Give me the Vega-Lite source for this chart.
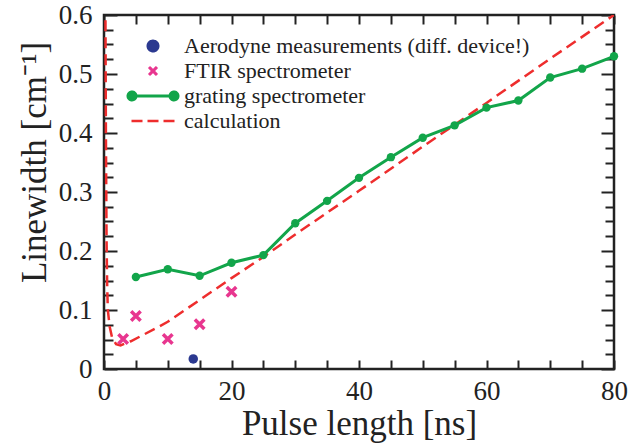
{
  "$schema": "https://vega.github.io/schema/vega-lite/v6.json",
  "autosize": "none",
  "width": 510,
  "height": 354,
  "padding": {"left": 104, "top": 15, "right": 16, "bottom": 79},
  "background": "white",
  "config": {
    "view": {"stroke": "#222", "strokeWidth": 2.5},
    "font": "Liberation Serif",
    "axis": {
      "labelFont": "Liberation Serif",
      "titleFont": "Liberation Serif",
      "labelColor": "#222",
      "titleColor": "#222",
      "titleFontWeight": "normal",
      "tickColor": "#222",
      "tickWidth": 2,
      "grid": false,
      "domain": false
    }
  },
  "datasets": {
    "pts": [
      {"series": "Aerodyne measurements (diff. device!)", "x": 14, "y": 0.017},
      {"series": "FTIR spectrometer", "x": 3, "y": 0.051},
      {"series": "FTIR spectrometer", "x": 5, "y": 0.09},
      {"series": "FTIR spectrometer", "x": 10, "y": 0.051},
      {"series": "FTIR spectrometer", "x": 15, "y": 0.076},
      {"series": "FTIR spectrometer", "x": 20, "y": 0.131},
      {"series": "grating spectrometer", "x": 5, "y": 0.156},
      {"series": "grating spectrometer", "x": 10, "y": 0.169},
      {"series": "grating spectrometer", "x": 15, "y": 0.158},
      {"series": "grating spectrometer", "x": 20, "y": 0.18},
      {"series": "grating spectrometer", "x": 25, "y": 0.193},
      {"series": "grating spectrometer", "x": 30, "y": 0.247},
      {"series": "grating spectrometer", "x": 35, "y": 0.285},
      {"series": "grating spectrometer", "x": 40, "y": 0.324},
      {"series": "grating spectrometer", "x": 45, "y": 0.359},
      {"series": "grating spectrometer", "x": 50, "y": 0.392},
      {"series": "grating spectrometer", "x": 55, "y": 0.413},
      {"series": "grating spectrometer", "x": 60, "y": 0.443},
      {"series": "grating spectrometer", "x": 65, "y": 0.455},
      {"series": "grating spectrometer", "x": 70, "y": 0.494},
      {"series": "grating spectrometer", "x": 75, "y": 0.509},
      {"series": "grating spectrometer", "x": 80, "y": 0.53},
      {"series": "calculation", "x": 0.22, "y": 0.62},
      {"series": "calculation", "x": 0.3, "y": 0.4},
      {"series": "calculation", "x": 0.4, "y": 0.22},
      {"series": "calculation", "x": 0.5, "y": 0.14},
      {"series": "calculation", "x": 0.6, "y": 0.1},
      {"series": "calculation", "x": 0.9, "y": 0.071},
      {"series": "calculation", "x": 1.25, "y": 0.054},
      {"series": "calculation", "x": 1.9, "y": 0.042},
      {"series": "calculation", "x": 2.6, "y": 0.04},
      {"series": "calculation", "x": 4.2, "y": 0.047},
      {"series": "calculation", "x": 6, "y": 0.057},
      {"series": "calculation", "x": 8.5, "y": 0.071},
      {"series": "calculation", "x": 10, "y": 0.08},
      {"series": "calculation", "x": 15, "y": 0.117},
      {"series": "calculation", "x": 20, "y": 0.154},
      {"series": "calculation", "x": 25, "y": 0.19},
      {"series": "calculation", "x": 30, "y": 0.228},
      {"series": "calculation", "x": 40, "y": 0.302},
      {"series": "calculation", "x": 50, "y": 0.377},
      {"series": "calculation", "x": 55, "y": 0.414},
      {"series": "calculation", "x": 60, "y": 0.451},
      {"series": "calculation", "x": 70, "y": 0.526},
      {"series": "calculation", "x": 80, "y": 0.6}
    ]
  },
  "data": {"name": "pts"},
  "resolve": {"axis": {"x": "independent", "y": "independent"}},
  "encoding": {
    "color": {
      "field": "series",
      "type": "nominal",
      "scale": {
        "domain": ["Aerodyne measurements (diff. device!)", "FTIR spectrometer", "grating spectrometer", "calculation"],
        "range": ["#2b3990", "#e8368f", "#12a54a", "#ee2d2d"]
      },
      "legend": {
        "orient": "none",
        "legendX": 38,
        "legendY": 20,
        "title": null,
        "padding": 0,
        "symbolSize": 100,
        "labelOffset": 20,
        "rowPadding": 3,
        "labelFont": "Liberation Serif",
        "labelFontSize": 22,
        "labelColor": "#222",
        "labelLimit": 500,
        "encode": {
          "symbols": {
            "update": {
              "shape": {"signal": "datum.value === 'grating spectrometer' ? 'M-4.2,0L4.2,0M-5,0A0.8,0.8,0,1,0,-3.4,0A0.8,0.8,0,1,0,-5,0M3.4,0A0.8,0.8,0,1,0,5,0A0.8,0.8,0,1,0,3.4,0' : datum.value === 'calculation' ? 'M-4.3,0L4.3,0' : datum.value === 'FTIR spectrometer' ? 'M-0.8,-0.8L0.8,0.8M-0.8,0.8L0.8,-0.8' : 'M-1,0A1,1,0,1,0,1,0A1,1,0,1,0,-1,0Z'"},
              "fill": {"signal": "datum.value === 'grating spectrometer' ? '#12a54a' : datum.value === 'Aerodyne measurements (diff. device!)' ? '#2b3990' : 'transparent'"},
              "stroke": {"signal": "datum.value === 'grating spectrometer' ? '#12a54a' : datum.value === 'calculation' ? '#ee2d2d' : datum.value === 'FTIR spectrometer' ? '#e8368f' : 'transparent'"},
              "strokeWidth": {"signal": "datum.value === 'calculation' ? 2.5 : 3"},
              "strokeDash": {"signal": "datum.value === 'calculation' ? [11, 5] : [1, 0]"},
              "opacity": {"value": 1}
            }
          }
        }
      }
    }
  },
  "layer": [
    {
      "transform": [{"filter": "datum.series === 'calculation'"}],
      "mark": {"type": "line", "strokeDash": [11, 6], "strokeWidth": 2.5, "clip": true},
      "encoding": {
        "x": {
          "field": "x", "type": "quantitative",
          "scale": {"domain": [0, 80], "nice": false, "zero": false},
          "axis": {
            "orient": "bottom",
            "values": [0, 5, 10, 15, 20, 25, 30, 35, 40, 45, 50, 55, 60, 65, 70, 75, 80],
            "labelExpr": "datum.value % 20 === 0 ? datum.label : ''",
            "tickSize": -9,
            "labelPadding": 18,
            "labelFontSize": 27,
            "labelFlush": false,
            "title": "Pulse length [ns]",
            "titleFontSize": 35,
            "titlePadding": 2
          }
        },
        "y": {
          "field": "y", "type": "quantitative",
          "scale": {"domain": [0, 0.6], "nice": false, "zero": false},
          "axis": {
            "orient": "left",
            "values": [0, 0.025, 0.05, 0.075, 0.1, 0.125, 0.15, 0.175, 0.2, 0.225, 0.25, 0.275, 0.3, 0.325, 0.35, 0.375, 0.4, 0.425, 0.45, 0.475, 0.5, 0.525, 0.55, 0.575, 0.6],
            "labelExpr": "abs(datum.value * 10 - round(datum.value * 10)) < 0.001 ? format(datum.value, '.1~f') : ''",
            "tickSize": {"condition": {"test": "abs(datum.value * 10 - round(datum.value * 10)) < 0.001", "value": -13}, "value": -9},
            "labelPadding": 25,
            "labelFontSize": 27,
            "labelFlush": false,
            "title": "Linewidth [cm⁻¹]",
            "titleFontSize": 35,
            "titlePadding": 6,
            "titleY": 147
          }
        }
      }
    },
    {
      "transform": [{"filter": "datum.series === 'grating spectrometer'"}],
      "mark": {"type": "line", "strokeWidth": 3},
      "encoding": {
        "x": {
          "field": "x", "type": "quantitative",
          "axis": {
            "orient": "top",
            "values": [0, 5, 10, 15, 20, 25, 30, 35, 40, 45, 50, 55, 60, 65, 70, 75, 80],
            "labels": false,
            "title": null,
            "tickSize": -9
          }
        },
        "y": {
          "field": "y", "type": "quantitative",
          "axis": {
            "orient": "right",
            "values": [0, 0.025, 0.05, 0.075, 0.1, 0.125, 0.15, 0.175, 0.2, 0.225, 0.25, 0.275, 0.3, 0.325, 0.35, 0.375, 0.4, 0.425, 0.45, 0.475, 0.5, 0.525, 0.55, 0.575, 0.6],
            "labels": false,
            "title": null,
            "tickSize": {"condition": {"test": "abs(datum.value * 10 - round(datum.value * 10)) < 0.001", "value": -13}, "value": -9}
          }
        }
      }
    },
    {
      "transform": [{"filter": "datum.series === 'grating spectrometer'"}],
      "mark": {"type": "point", "filled": true, "size": 70, "opacity": 1},
      "encoding": {
        "x": {"field": "x", "type": "quantitative", "axis": null},
        "y": {"field": "y", "type": "quantitative", "axis": null}
      }
    },
    {
      "transform": [{"filter": "datum.series === 'FTIR spectrometer'"}],
      "mark": {"type": "point", "filled": false, "shape": "M-1,-1L1,1M-1,1L1,-1", "size": 90, "strokeWidth": 3.5, "opacity": 1},
      "encoding": {
        "x": {"field": "x", "type": "quantitative", "axis": null},
        "y": {"field": "y", "type": "quantitative", "axis": null}
      }
    },
    {
      "transform": [{"filter": "datum.series === 'Aerodyne measurements (diff. device!)'"}],
      "mark": {"type": "point", "filled": true, "size": 90, "opacity": 1},
      "encoding": {
        "x": {"field": "x", "type": "quantitative", "axis": null},
        "y": {"field": "y", "type": "quantitative", "axis": null}
      }
    }
  ]
}
